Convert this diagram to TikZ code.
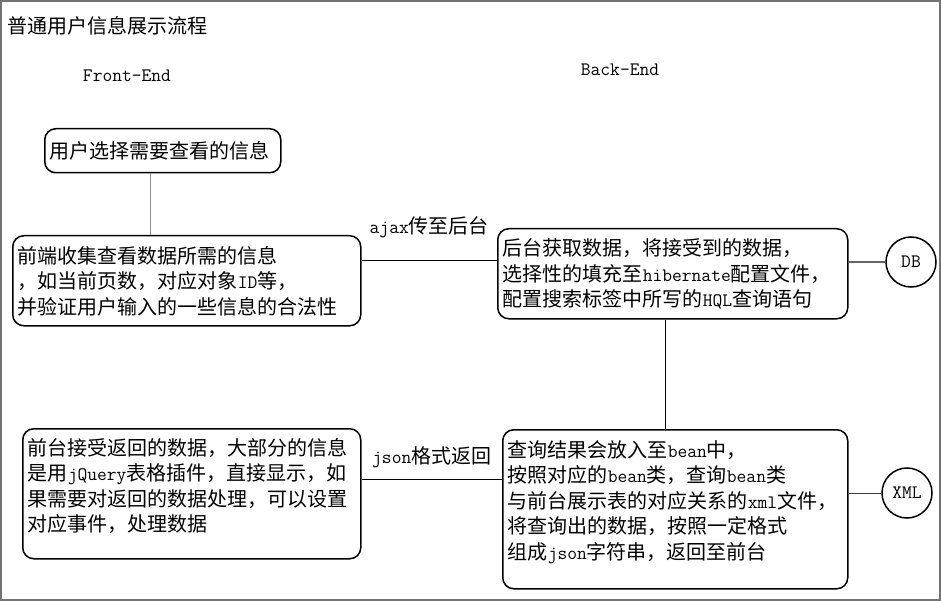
\documentclass[tikz,border=0pt]{standalone}
\usepackage{fontspec}
\setmainfont{Noto Sans CJK SC}
\usetikzlibrary{calc}
\newcommand{\en}[1]{{\fontsize{19pt}{25.5pt}\ttfamily #1}}

\begin{document}
\begin{tikzpicture}[x=1pt,y=-1pt]
    \tikzstyle{frame}=[draw=black!55,line width=2pt]
    \tikzstyle{title}=[font=\fontsize{20pt}{24pt}\selectfont,anchor=west,inner sep=0pt]
    \tikzstyle{side}=[font=\fontsize{19pt}{20pt}\ttfamily,inner sep=0pt]
    \tikzstyle{box}=[draw=black,line width=1.5pt,rounded corners=11pt,anchor=north west,inner ysep=0pt,inner xsep=5pt,align=left,font=\fontsize{20pt}{25.5pt}\selectfont]
    \tikzstyle{store}=[draw=black,line width=1.5pt,circle,minimum size=50pt,inner sep=0pt,font=\fontsize{19pt}{20pt}\ttfamily]
    \tikzstyle{msg}=[inner sep=0pt,font=\fontsize{20pt}{24pt}\selectfont]

    \useasboundingbox (0,0) rectangle (941,601);
    \draw[frame] (1,1) rectangle (939.5,599.5);

    \node[title] (head) at (7,26) {普通用户信息展示流程};
    \node[side]  (fe) at (127,76) {Front-End};
    \node[side]  (be) at (620,70) {Back-End};

    % front-end
    \node[box,text width=226pt,text height=29.6pt,text depth=14.4pt] (pick) at (44,128) {用户选择需要查看的信息};
    \node[box,text width=338pt,text height=27.6pt,text depth=62.4pt] (collect) at (12,235) {前端收集查看数据所需的信息\\，如当前页数，对应对象\en{ID}等，\\并验证用户输入的一些信息的合法性};
    \node[box,text width=328pt,text height=26.6pt,text depth=103.4pt] (show) at (22,428) {前台接受返回的数据，大部分的信息\\是用\en{jQuery}表格插件，直接显示，如\\果需要对返回的数据处理，可以设置\\对应事件，处理数据};

    % back-end
    \node[box,text width=340pt,text height=27.1pt,text depth=62.9pt] (fetch) at (497,228) {后台获取数据，将接受到的数据，\\选择性的填充至\en{hibernate}配置文件，\\配置搜索标签中所写的\en{HQL}查询语句};
    \node[box,text width=335pt,text height=27.6pt,text depth=131.4pt] (query) at (502,429) {查询结果会放入至\en{bean}中，\\按照对应的\en{bean}类，查询\en{bean}类\\与前台展示表的对应关系的\en{xml}文件，\\将查询出的数据，按照一定格式\\组成\en{json}字符串，返回至前台};

    \node[store] (db)  at (911,262) {DB};
    \node[store] (xml) at (907,493) {XML};

    \tikzstyle{fwd} = [draw=black, line width=1pt]
    \tikzstyle{weak} = [draw=black!45, line width=1pt]

    \coordinate (p1) at ($(pick.south west)!0.45!(pick.south east)$);
    \draw [weak] (p1) -- (p1 |- collect.north);

    \coordinate (p2) at ($(collect.north east)!0.28!(collect.south east)$);
    \draw [fwd] (p2) -- (p2 -| fetch.west) node[msg,midway,above=22pt] {\en{ajax}传至后台};

    \draw [weak,draw=black!60,line width=1.6pt] (db.west) -- (db.west -| fetch.east);

    \coordinate (p3) at ($(fetch.south west)!0.48!(fetch.south east)$);
    \draw [fwd] (p3) -- (p3 |- query.north);

    \draw [fwd,draw=black!75] (xml.west) -- (xml.west -| query.east);

    \coordinate (p4) at ($(show.north east)!0.39!(show.south east)$);
    \draw [fwd] (p4) -- (p4 -| query.west) node[msg,midway,above=11pt] {\en{json}格式返回};

\end{tikzpicture}
\end{document}
